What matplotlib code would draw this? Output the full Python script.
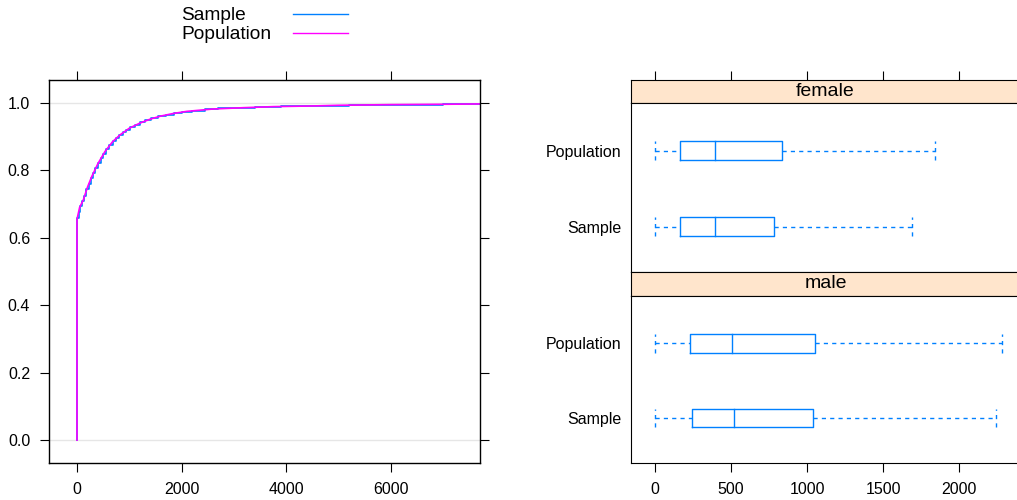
import matplotlib.pyplot as plt
from matplotlib.lines import Line2D
import numpy as np

plt.rcParams['font.family'] = ['Liberation Sans', 'DejaVu Sans']

# ECDF of the sample (step function) and of the population
sample_x = [0, 30, 60, 100, 140, 180, 220, 260, 300, 350, 400, 450, 500, 560, 620, 680,
            740, 800, 870, 940, 1010, 1100, 1200, 1300, 1420, 1550, 1700, 1850, 2000,
            2200, 2450, 2700, 3000, 3400, 3900, 4500, 5200, 6000, 7000, 7700]
sample_y = [0.660, 0.677, 0.695, 0.710, 0.725, 0.744, 0.761, 0.776, 0.791, 0.807, 0.822,
            0.836, 0.849, 0.863, 0.875, 0.887, 0.896, 0.904, 0.913, 0.920, 0.928, 0.935,
            0.942, 0.948, 0.955, 0.960, 0.965, 0.970, 0.974, 0.977, 0.981, 0.984, 0.986,
            0.988, 0.990, 0.992, 0.994, 0.995, 0.996, 0.997]
pop_x = [0, 0, 50, 120, 200, 280, 400, 535, 680, 820, 1000, 1200, 1400, 1600, 1850,
         2100, 2600, 3200, 3750, 4500, 5000, 6000, 7000, 7700]
pop_y = [0.0, 0.655, 0.69, 0.712, 0.75, 0.781, 0.82, 0.856, 0.885, 0.905, 0.925, 0.94,
         0.952, 0.961, 0.969, 0.975, 0.982, 0.986, 0.989, 0.991, 0.993, 0.995, 0.996, 0.997]

# box statistics: (low whisker, Q1, median, Q3, high whisker)
groups = ['Sample', 'Population']
female_stats = {'Sample': [0, 164, 395, 783, 1693],
                'Population': [0, 167, 397, 838, 1840]}
male_stats = {'Sample': [0, 243, 522, 1042, 2243],
              'Population': [0, 230, 507, 1050, 2285]}

W, H = 1017, 500
blue = '#0080ff'
magenta = '#ff00ff'
strip_col = '#ffe5cc'

fig = plt.figure(figsize=(W / 100, H / 100), dpi=100)


def fax(x0, y0, x1, y1):
    # axes from pixel box (top-left origin)
    return fig.add_axes([x0 / W, 1 - y1 / H, (x1 - x0) / W, (y1 - y0) / H])


# ---- left: ecdf plot
ax = fax(49, 80, 480, 463)
ax.axhline(0, color='#e6e6e6', lw=1, zorder=0)
ax.axhline(1, color='#e6e6e6', lw=1, zorder=0)
ax.step([0] + sample_x, [0] + sample_y, where='post', color=blue, lw=1.2)
ax.plot(pop_x, pop_y, color=magenta, lw=1.2)
ax.set_xlim(-535, 7700)
ax.set_ylim(-0.068, 1.068)
ax.set_xticks([0, 2000, 4000, 6000])
ax.set_yticks([0.0, 0.2, 0.4, 0.6, 0.8, 1.0])
ax.set_yticklabels(['0.0', '0.2', '0.4', '0.6', '0.8', '1.0'])
ax.tick_params(direction='out', length=6.5, width=0.8, pad=7, labelsize=11.5,
               top=True, right=True)
for s in ax.spines.values():
    s.set_linewidth(1)

# legend
fig.text(181 / W, 1 - 15 / H, 'Sample', fontsize=13.8, va='center', ha='left')
fig.text(181 / W, 1 - 34 / H, 'Population', fontsize=13.8, va='center', ha='left')
fig.add_artist(Line2D([293 / W, 348 / W], [1 - 14 / H, 1 - 14 / H], color=blue, lw=1))
fig.add_artist(Line2D([293 / W, 348 / W], [1 - 33 / H, 1 - 33 / H], color=magenta, lw=1))

# ---- right: box plots by sex
xl = (-158, 2401)
panels = [('female', female_stats, 80, 103, 272), ('male', male_stats, 272, 296, 463)]
for k, (name, stats, ys, y0, y1) in enumerate(panels):
    sax = fax(631, ys, 1020, y0)
    sax.set_facecolor(strip_col)
    sax.set_xlim(*xl)
    sax.set_yticks([])
    sax.text(0.5, 0.5, name, transform=sax.transAxes, ha='center', va='center',
             fontsize=14)
    if k == 0:
        sax.xaxis.tick_top()
        sax.set_xticks([0, 500, 1000, 1500, 2000])
        sax.tick_params(axis='x', direction='out', length=6.5, width=0.8, labeltop=False)
    else:
        sax.set_xticks([])

    bax = fax(631, y0, 1020, y1)
    bax.set_xlim(*xl)
    bax.set_ylim(0.4, 2.63)
    hw = 0.125
    for i, g in enumerate(groups):
        lo, q1, med, q3, hi = stats[g]
        yc = i + 1
        bax.plot([q1, q3, q3, q1, q1], [yc - hw, yc - hw, yc + hw, yc + hw, yc - hw],
                 color=blue, lw=1)
        bax.plot([med, med], [yc - hw, yc + hw], color=blue, lw=1)
        bax.plot([lo, q1], [yc, yc], color=blue, lw=1, ls=(0, (3, 3)))
        bax.plot([q3, hi], [yc, yc], color=blue, lw=1, ls=(0, (3, 3)))
        bax.plot([lo, lo], [yc - hw, yc + hw], color=blue, lw=1, ls=(0, (3, 3)))
        bax.plot([hi, hi], [yc - hw, yc + hw], color=blue, lw=1, ls=(0, (3, 3)))
    bax.set_yticks([1, 2])
    bax.set_yticklabels(groups)
    bax.tick_params(axis='y', length=0, pad=7, labelsize=11.5)
    if k == 1:
        bax.set_xticks([0, 500, 1000, 1500, 2000])
        bax.tick_params(axis='x', direction='out', length=6.5, width=0.8, pad=7,
                        labelsize=11.5)
    else:
        bax.set_xticks([])

fig.savefig('out.png', dpi=100)
